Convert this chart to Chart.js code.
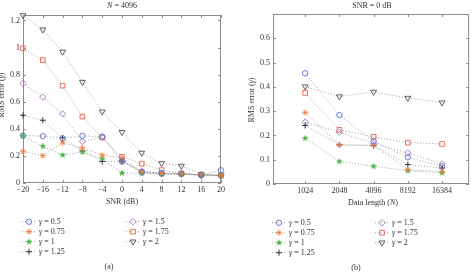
<!DOCTYPE html>
<html>
<head>
<meta charset="utf-8">
<script src="https://cdn.jsdelivr.net/npm/chart.js@4.4.1/dist/chart.umd.min.js"></script>
<style>
  html, body { margin: 0; padding: 0; background: #fff; }
  #wrap { position: relative; width: 474px; height: 275px; overflow: hidden; }
  canvas { position: absolute; top: 0; }
  #chart-a { left: 0; }
  #chart-b { left: 240px; }
</style>
</head>
<body>
<div id="wrap">
  <canvas id="chart-a" width="240" height="275"></canvas>
  <canvas id="chart-b" width="234" height="275"></canvas>
</div>
<script>
/* Two panels: RMS error of gamma vs SNR (N = 4096) and vs data length (SNR = 0 dB). */

const GAMMAS = ['0.5', '0.75', '1', '1.25', '1.5', '1.75', '2'];

// panel (a): x = SNR in dB
const SNR = [-20, -16, -12, -8, -4, 0, 4, 8, 12, 16, 20];
const SNR_TICKS = [-20, -16, -12, -8, -4, 0, 4, 8, 12, 16, 20];
const RMS_TICKS_A = [0, 0.2, 0.4, 0.6, 0.8, 1, 1.2];
const snrG050 = [0.35, 0.346, 0.33, 0.348, 0.342, 0.158, 0.08, 0.07, 0.068, 0.06, 0.094];
const snrG075 = [0.232, 0.202, 0.298, 0.258, 0.205, 0.185, 0.08, 0.07, 0.068, 0.06, 0.057];
const snrG100 = [0.35, 0.272, 0.207, 0.228, 0.18, 0.074, 0.072, 0.066, 0.066, 0.06, 0.056];
const snrG125 = [0.5, 0.463, 0.333, 0.237, 0.158, 0.162, 0.078, 0.068, 0.066, 0.06, 0.055];
const snrG150 = [0.735, 0.634, 0.51, 0.306, 0.338, 0.165, 0.088, 0.073, 0.067, 0.052, 0.057];
const snrG175 = [0.995, 0.907, 0.718, 0.49, 0.336, 0.193, 0.143, 0.095, 0.07, 0.062, 0.057];
const snrG200 = [1.237, 1.132, 0.968, 0.745, 0.526, 0.375, 0.222, 0.145, 0.126, 0.064, 0.058];

// panel (b): x = data length, plotted at evenly spaced positions 1..5
const LENGTHS = ['1024', '2048', '4096', '8192', '16384'];
const LEN_POS = [1, 2, 3, 4, 5];
const RMS_TICKS_B = [0, 0.1, 0.2, 0.3, 0.4, 0.5, 0.6];
const lenG050 = [0.456, 0.284, 0.176, 0.11, 0.073];
const lenG075 = [0.294, 0.161, 0.16, 0.059, 0.052];
const lenG100 = [0.189, 0.093, 0.073, 0.055, 0.046];
const lenG125 = [0.241, 0.161, 0.158, 0.08, 0.066];
const lenG150 = [0.255, 0.213, 0.167, 0.128, 0.083];
const lenG175 = [0.375, 0.223, 0.194, 0.17, 0.165];
const lenG200 = [0.401, 0.36, 0.379, 0.354, 0.335];

const TEXT = '#333';
const FAM = '"Liberation Serif", "DejaVu Serif", serif';
Chart.defaults.font.family = FAM;
Chart.defaults.font.size = 8;
Chart.defaults.color = TEXT;

// filled five-point star for gamma = 1 (Chart.js has no pentagram)
function pentagram(color, r) {
  const c = document.createElement('canvas');
  const s = Math.ceil(r * 2) + 2;
  c.width = c.height = s;
  const g = c.getContext('2d');
  g.beginPath();
  for (let k = 0; k < 10; k++) {
    const a = -Math.PI / 2 + k * Math.PI / 5;
    const rr = k % 2 ? r * 0.42 : r;
    g.lineTo(s / 2 + rr * Math.cos(a), s / 2 + rr * Math.sin(a));
  }
  g.closePath();
  g.fillStyle = color;
  g.fill();
  return c;
}

const MARKS = [
  { color: '#5b6ec6', style: 'circle', r: 2.7 },
  { color: '#f07a3e', style: 'star', r: 3 },
  { color: '#46b446', style: pentagram('#46b446', 3.6), r: 3 },
  { color: '#222222', style: 'cross', r: 3 },
  { color: '#b36fc9', style: 'rectRot', r: 3.2 },
  { color: '#e6604e', style: 'rect', r: 3.3 },
  { color: '#5a4652', style: 'triangle', r: 3.4, rot: 180 },
];

function makeSets(xs, series) {
  return series.map((ys, i) => {
    const m = MARKS[i];
    return {
      label: 'γ = ' + GAMMAS[i],
      data: xs.map((x, k) => ({ x, y: ys[k] })),
      borderColor: '#8a8a8a',
      borderWidth: 0.8,
      borderDash: [1, 2],
      pointStyle: m.style,
      pointRadius: m.r,
      pointRotation: m.rot || 0,
      pointBorderColor: m.color,
      pointBackgroundColor: 'rgba(0,0,0,0)',
      pointBorderWidth: 0.9,
      showLine: true,
      clip: false,
    };
  });
}

function font(p) {
  return (p.i ? 'italic ' : '') + '8px ' + FAM;
}

function rich(ctx, parts, x, y, align) {
  let w = 0;
  parts.forEach((p) => { ctx.font = font(p); w += ctx.measureText(p.t).width; });
  let cx = align === 'center' ? x - w / 2 : x;
  parts.forEach((p) => {
    ctx.font = font(p);
    ctx.fillText(p.t, cx, y);
    cx += ctx.measureText(p.t).width;
  });
}

// axes box, inward ticks, titles and the two-column legend
const decor = {
  id: 'decor',
  beforeDatasetsDraw(chart) {
    const { ctx, chartArea: a } = chart;
    const sx = chart.scales.x, sy = chart.scales.y;
    ctx.save();
    ctx.strokeStyle = '#8c8c8c';
    ctx.lineWidth = 1;
    ctx.strokeRect(a.left + 0.5, a.top + 0.5, a.right - a.left - 1, a.bottom - a.top - 1);
    ctx.beginPath();
    sx.ticks.forEach((t) => {
      const px = Math.round(sx.getPixelForValue(t.value)) + 0.5;
      ctx.moveTo(px, a.bottom); ctx.lineTo(px, a.bottom - 3);
      ctx.moveTo(px, a.top); ctx.lineTo(px, a.top + 3);
    });
    sy.ticks.forEach((t) => {
      const py = Math.round(sy.getPixelForValue(t.value)) + 0.5;
      ctx.moveTo(a.left, py); ctx.lineTo(a.left + 3, py);
      ctx.moveTo(a.right, py); ctx.lineTo(a.right - 3, py);
    });
    ctx.stroke();
    ctx.restore();
  },
  afterDraw(chart, args, o) {
    const ctx = chart.ctx;
    ctx.save();
    ctx.fillStyle = TEXT;
    ctx.textBaseline = 'middle';
    ctx.textAlign = 'left';
    rich(ctx, o.title, o.titleX, 6, 'center');
    rich(ctx, o.xTitle, o.xTitleX, o.xTitleY, 'center');
    rich(ctx, [{ t: '(' + o.caption + ')' }], o.captionX, o.captionY, 'center');

    ctx.save();
    ctx.translate(o.yTitleX, o.yTitleY);
    ctx.rotate(-Math.PI / 2);
    rich(ctx, [{ t: 'RMS error (' }, { t: 'γ', i: true }, { t: ')' }], 0, 0, 'center');
    ctx.restore();

    chart.data.datasets.forEach((ds, i) => {
      const col = i < 4 ? 0 : 1;
      const row = i < 4 ? i : i - 4;
      const mx = o.legendX[col];
      const my = o.legendY + row * 10;
      ctx.save();
      ctx.strokeStyle = '#8a8a8a';
      ctx.lineWidth = 0.8;
      ctx.setLineDash([1, 2]);
      ctx.beginPath();
      ctx.moveTo(mx - 7, my); ctx.lineTo(mx + 7, my);
      ctx.stroke();
      ctx.restore();
      ctx.save();
      ctx.strokeStyle = ds.pointBorderColor;
      ctx.fillStyle = 'rgba(0,0,0,0)';
      ctx.lineWidth = ds.pointBorderWidth;
      Chart.helpers.drawPoint(ctx, {
        pointStyle: ds.pointStyle, radius: ds.pointRadius,
        rotation: ds.pointRotation, borderWidth: ds.pointBorderWidth,
      }, mx, my);
      ctx.restore();
      rich(ctx, [{ t: 'γ', i: true }, { t: ' = ' + GAMMAS[i] }], mx + 10, my, 'left');
    });
    ctx.restore();
  },
};

function makeChart(el, sets, cfg) {
  return new Chart(el, {
    type: 'scatter',
    data: { datasets: sets },
    options: {
      responsive: false,
      animation: false,
      events: [],
      layout: { padding: cfg.padding },
      plugins: { legend: { display: false }, tooltip: { enabled: false }, decor: cfg.decor },
      scales: {
        x: {
          type: 'linear',
          min: cfg.xMin, max: cfg.xMax,
          grid: { display: false, drawTicks: false },
          border: { display: false },
          afterBuildTicks: (s) => { s.ticks = cfg.xTicks.map((v) => ({ value: v })); },
          afterFit: (s) => { s.height = 26; },
          ticks: { padding: 2, maxRotation: 0, autoSkip: false, callback: cfg.xLabel },
        },
        y: {
          type: 'linear',
          min: 0, max: cfg.yMax,
          grid: { display: false, drawTicks: false },
          border: { display: false },
          afterBuildTicks: (s) => { s.ticks = cfg.yTicks.map((v) => ({ value: v })); },
          afterFit: (s) => { s.width = cfg.yWidth; },
          ticks: { padding: 3, autoSkip: false, callback: (v) => String(v) },
        },
      },
    },
    plugins: [decor],
  });
}

makeChart(document.getElementById('chart-a'),
  makeSets(SNR, [snrG050, snrG075, snrG100, snrG125, snrG150, snrG175, snrG200]), {
    padding: { top: 15, right: 19, bottom: 66, left: 0 },
    xMin: -20, xMax: 20, xTicks: SNR_TICKS,
    xLabel: (v) => String(v).replace('-', '\u2212'),
    yMax: 1.24, yTicks: RMS_TICKS_A, yWidth: 23,
    decor: {
      title: [{ t: 'N', i: true }, { t: ' = 4096' }], titleX: 122,
      xTitle: [{ t: 'SNR (dB)' }], xTitleX: 122, xTitleY: 202,
      yTitleX: 2, yTitleY: 95,
      caption: 'a', captionX: 109, captionY: 267,
      legendX: [29, 133], legendY: 221.7,
    },
  });

makeChart(document.getElementById('chart-b'),
  makeSets(LEN_POS, [lenG050, lenG075, lenG100, lenG125, lenG150, lenG175, lenG200]), {
    padding: { top: 14, right: 3, bottom: 65, left: 0 },
    xMin: 0.06, xMax: 5.79, xTicks: LEN_POS,
    xLabel: (v) => LENGTHS[LEN_POS.indexOf(v)],
    yMax: 0.7, yTicks: RMS_TICKS_B, yWidth: 33,
    decor: {
      title: [{ t: 'SNR = 0 dB' }], titleX: 132,
      xTitle: [{ t: 'Data length (' }, { t: 'N', i: true }, { t: ')' }], xTitleX: 133, xTitleY: 203,
      yTitleX: 12, yTitleY: 100,
      caption: 'b', captionX: 116, captionY: 268,
      legendX: [39, 142], legendY: 222.7,
    },
  });
</script>
</body>
</html>
